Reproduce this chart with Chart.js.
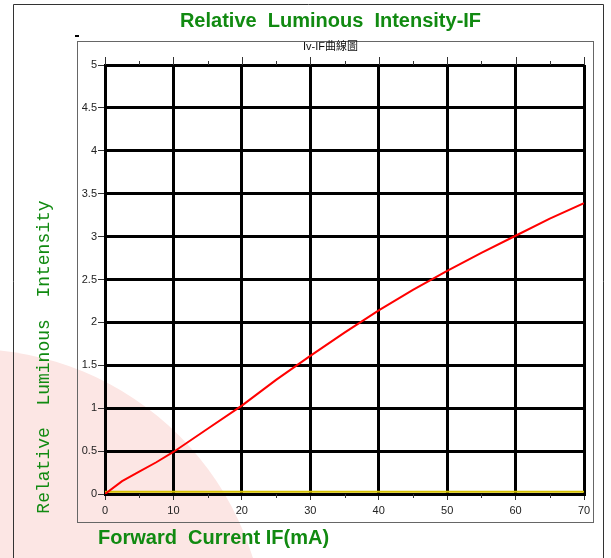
<!DOCTYPE html>
<html>
<head>
<meta charset="utf-8">
<script src="https://cdn.jsdelivr.net/npm/chart.js@4"></script>
<style>
  body { margin: 0; background: #fff; }
  #wrap { width: 611px; height: 558px; }
</style>
</head>
<body>
<div id="wrap"><canvas id="ivChart" width="611" height="558"></canvas></div>
<script>
// values
const currentMA = [0, 2.5, 5, 7.5, 10, 15, 20, 25, 30, 35, 40, 45, 50, 55, 60, 65, 70];
const relIntensity = [0, 0.15, 0.26, 0.37, 0.49, 0.76, 1.03, 1.33, 1.61, 1.88, 2.14, 2.38, 2.6, 2.81, 3.01, 3.21, 3.39];
const baseX = [0, 70];
const baseY = [0.025, 0.025];

const titleText = 'Relative  Luminous  Intensity-IF';
const subText = 'Iv-IF曲線圖';
const xTitle = 'Forward  Current IF(mA)';
const yTitle = 'Relative  Luminous  Intensity';
const green = '#118a11';

// background: pale pink disc + frames
const frames = {
  id: 'frames',
  beforeDraw(chart) {
    const c = chart.ctx;
    c.save();
    c.fillStyle = '#fce6e4';
    c.beginPath();
    c.arc(-30, 645, 296, 0, Math.PI * 2);
    c.fill();
    c.strokeStyle = '#333';
    c.lineWidth = 1;
    c.beginPath();
    c.moveTo(13.5, 558); c.lineTo(13.5, 4.5); c.lineTo(603.5, 4.5); c.lineTo(603.5, 558);
    c.stroke();
    c.strokeStyle = '#666';
    c.strokeRect(77.5, 41.5, 516, 481);
    c.fillStyle = '#000';
    c.fillRect(75, 35, 4, 2);
    c.restore();
  },
  afterDraw(chart) {
    const c = chart.ctx;
    const a = chart.chartArea;
    const xs = chart.scales.x;
    c.save();
    c.strokeStyle = '#333';
    c.lineWidth = 1;
    for (let v = 0; v <= 70; v += 5) {
      const px = Math.round(xs.getPixelForValue(v)) + 0.5;
      const major = v % 10 === 0;
      c.beginPath();
      c.moveTo(px, a.top);
      c.lineTo(px, a.top - (major ? 8 : 4));
      c.stroke();
      if (!major) {
        c.beginPath();
        c.moveTo(px, a.bottom);
        c.lineTo(px, a.bottom + 4);
        c.stroke();
      }
    }
    c.fillStyle = green;
    c.font = 'bold 20px "Liberation Sans", Arial, sans-serif';
    c.textAlign = 'left';
    c.textBaseline = 'middle';
    c.fillText(xTitle, a.left - 7, 538);
    c.translate(44, 357);
    c.rotate(-Math.PI / 2);
    c.textAlign = 'center';
    c.font = '18px "Liberation Mono", "Courier New", monospace';
    c.fillText(yTitle, 0, 0);
    c.restore();
  }
};

const ctx = document.getElementById('ivChart');

new Chart(ctx, {
  type: 'line',
  data: {
    datasets: [{
      data: currentMA.map((x, i) => ({ x: x, y: relIntensity[i] })),
      borderColor: '#ff0000',
      borderWidth: 2,
      pointRadius: 0,
      tension: 0
    }, {
      data: baseX.map((x, i) => ({ x: x, y: baseY[i] })),
      borderColor: '#d4c000',
      borderWidth: 2,
      pointRadius: 0
    }]
  },
  options: {
    responsive: false,
    animation: false,
    layout: { padding: { left: 77, right: 27, top: 0, bottom: 0 } },
    plugins: {
      legend: { display: false },
      tooltip: { enabled: false },
      title: {
        display: true,
        text: titleText,
        color: green,
        font: { family: '"Liberation Sans", Arial, sans-serif', size: 20, weight: 'bold' },
        padding: { top: 9, bottom: 0 }
      },
      subtitle: {
        display: true,
        text: subText,
        color: '#111',
        font: { family: '"Liberation Sans", "Noto Sans CJK TC", sans-serif', size: 11 },
        padding: { top: 7.4, bottom: 11.4 }
      }
    },
    scales: {
      x: {
        type: 'linear',
        min: 0,
        max: 70,
        ticks: { stepSize: 10, color: '#222', padding: 4, maxRotation: 0,
          font: { family: '"Liberation Sans", Arial, sans-serif', size: 11 } },
        grid: { color: '#000', lineWidth: 3, tickLength: 6, tickColor: '#333', tickWidth: 1 },
        border: { color: '#000', width: 3 },
        afterFit(s) { s.height = 64; }
      },
      y: {
        min: 0,
        max: 5,
        ticks: { stepSize: 0.5, color: '#222', padding: 1,
          callback: v => String(v),
          font: { family: '"Liberation Sans", Arial, sans-serif', size: 11 } },
        grid: { color: '#000', lineWidth: 3, tickLength: 7, tickColor: '#333', tickWidth: 1 },
        border: { color: '#000', width: 3 },
        afterFit(s) { s.width = 28; }
      }
    }
  },
  plugins: [frames]
});
</script>
</body>
</html>
